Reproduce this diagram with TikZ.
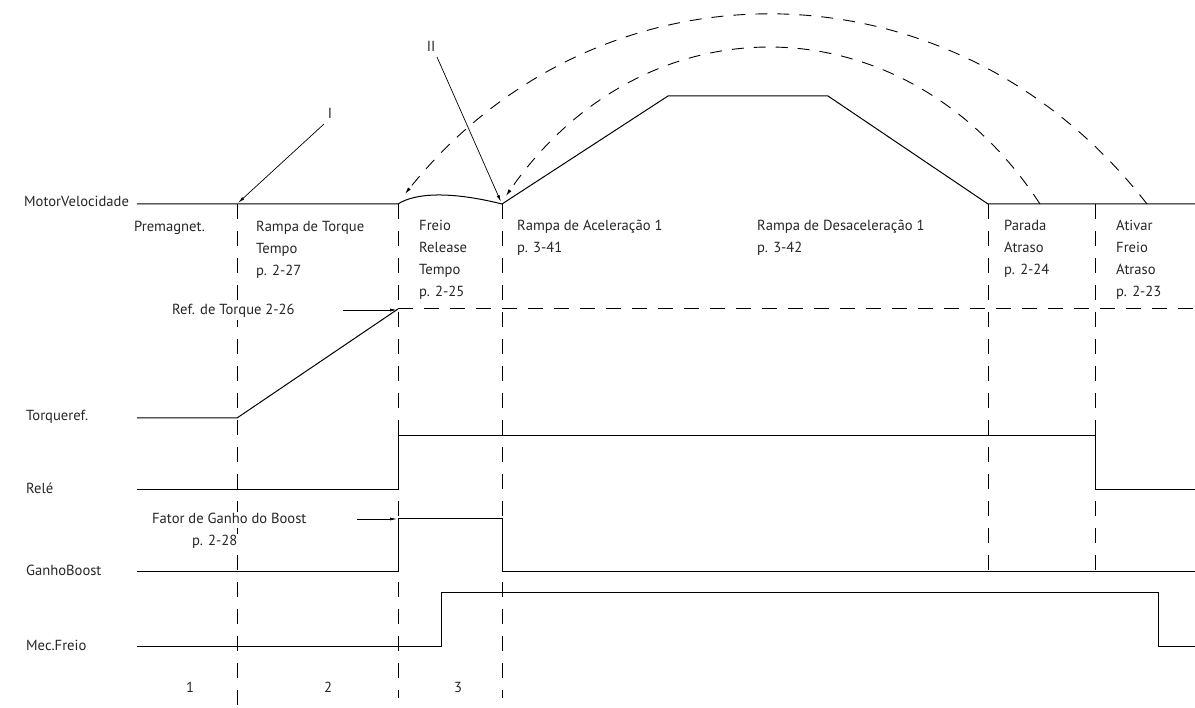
\documentclass[tikz,border=0pt]{standalone}
\usepackage{fontspec}
\setmainfont{PT Sans}
\usetikzlibrary{arrows.meta}
\begin{document}
\begin{tikzpicture}[x=1pt,y=-1pt,
  sig/.style={line width=1pt,line join=miter},
  guide/.style={line width=1pt,dash pattern=on 15pt off 12pt},
  refline/.style={line width=1pt,dash pattern=on 15pt off 11pt},
  arcline/.style={line width=0.9pt,dash pattern=on 12pt off 10pt,-{Latex[length=7pt,width=3.5pt]}},
  pointer/.style={line width=0.7pt,-{Latex[length=7pt,width=3pt]}},
  txt/.style={font=\fontsize{14.6}{17}\selectfont,inner sep=0pt,anchor=base west,text=black!85},
  wtxt/.style={txt,fill=white,inner sep=2pt},
  ctxt/.style={font=\fontsize{14.6}{17}\selectfont,inner sep=0pt,anchor=center,text=black!85}
]
\useasboundingbox (0,0) rectangle (1195,708);

% ---------- vertical guide lines ----------
\draw[guide] (237,204) -- (237,708);
\draw[guide] (398,204) -- (398,698);
\draw[guide] (502,204) -- (502,698);
\draw[guide] (988,204) -- (988,572);
\draw[guide] (1095,204) -- (1095,572);

% ---------- torque reference dashed line ----------
\draw[refline] (398,309) -- (1195,309);

% ---------- signal traces ----------
\draw[sig] (137,204) -- (398,204) .. controls (415,193) and (450,191) .. (502,204)
  -- (668,96) -- (828,96) -- (988,204) -- (1195,204);
\draw[sig] (137,418) -- (237,418) -- (398,309);
\draw[sig] (137,490) -- (398,490) -- (398,436) -- (1095,436) -- (1095,490) -- (1195,490);
\draw[sig] (137,571) -- (398,571) -- (398,519) -- (502,519) -- (502,571) -- (1195,571);
\draw[sig] (137,646) -- (441,646) -- (441,592) -- (1158,592) -- (1158,646) -- (1195,646);

% ---------- dashed arcs ----------
\coordinate (oa) at (1147,204);
\coordinate (ob) at (405,194);
\coordinate (ia) at (1040,204);
\coordinate (ib) at (506,196);
\draw[arcline] (oa) .. controls (952,-47) and (598,-47) .. (ob);
\draw[arcline] (ia) .. controls (905,-3) and (643,-3) .. (ib);

% ---------- left labels ----------
\node[txt] (lmv) at (24,207) {MotorVelocidade};
\node[txt] (ltq) at (26,421) {Torqueref.};
\node[txt] (lre) at (26,494) {Relé};
\node[txt] (lgb) at (26,575) {GanhoBoost};
\node[txt] (lmf) at (26,650) {Mec.Freio};

% ---------- section texts ----------
\node[txt] (pm) at (134,232) {Premagnet.};
\node[txt] (rt1) at (256,232) {Rampa de Torque};
\node[txt] (rt2) at (256,254) {Tempo};
\node[txt] (rt3) at (256,276) {p. 2-27};
\node[txt] (fr1) at (419,231) {Freio};
\node[txt] (fr2) at (419,253) {Release};
\node[txt] (fr3) at (419,275) {Tempo};
\node[txt] (fr4) at (419,297) {p. 2-25};
\node[txt] (ra1) at (517,231) {Rampa de Aceleração 1};
\node[txt] (ra2) at (517,253) {p. 3-41};
\node[txt] (rd1) at (757,231) {Rampa de Desaceleração 1};
\node[txt] (rd2) at (757,253) {p. 3-42};
\node[txt] (pa1) at (1004,231) {Parada};
\node[txt] (pa2) at (1004,253) {Atraso};
\node[txt] (pa3) at (1004,275) {p. 2-24};
\node[txt] (av1) at (1116,231) {Ativar};
\node[txt] (av2) at (1116,253) {Freio};
\node[txt] (av3) at (1116,275) {Atraso};
\node[txt] (av4) at (1116,297) {p. 2-23};

\node[wtxt] (reft) at (170,315) {Ref. de Torque 2-26};
\node[wtxt] (fg1) at (150,524) {Fator de Ganho do Boost};
\node[wtxt] (fg2) at (190,546) {p. 2-28};

\node[ctxt] (n1) at (190,687) {1};
\node[ctxt] (n2) at (328,687) {2};
\node[ctxt] (n3) at (458,687) {3};

\node[ctxt] (lI) at (330,113) {I};
\node[ctxt] (lII) at (431,46) {II};

% ---------- pointers ----------
\coordinate (Ia) at (324,124);
\coordinate (Ib) at (238,203);
\coordinate (IIa) at (437,57);
\coordinate (IIb) at (501,202);
\coordinate (Ra) at (343,310);
\coordinate (Rb) at (397,310);
\coordinate (Fa) at (357,519);
\coordinate (Fb) at (397,519);
\draw[pointer] (Ia) -- (Ib);
\draw[pointer] (IIa) -- (IIb);
\draw[pointer] (Ra) -- (Rb);
\draw[pointer] (Fa) -- (Fb);
\end{tikzpicture}
\end{document}
